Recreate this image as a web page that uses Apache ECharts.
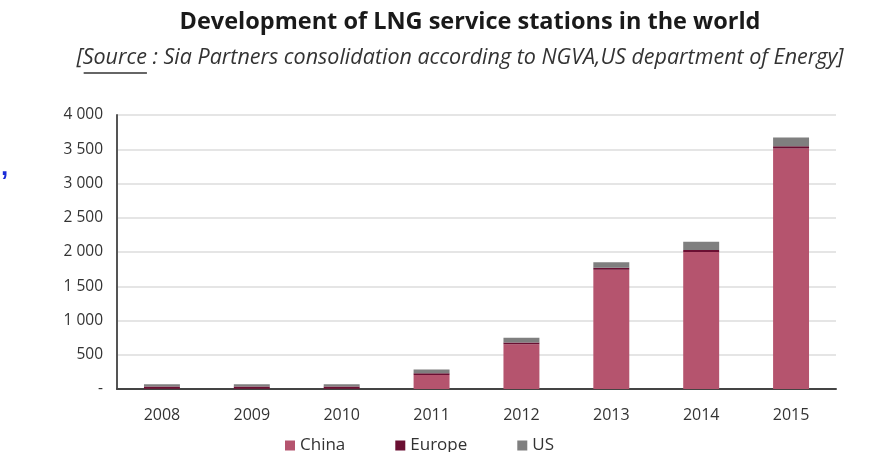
<!DOCTYPE html>
<html><head><meta charset="utf-8">
<script src="https://cdn.jsdelivr.net/npm/echarts@6/dist/echarts.min.js"></script>
<style>html,body{margin:0;padding:0;background:#fff}#c{width:869px;height:452px}</style>
</head><body><div id="c"></div>
<script>
const years = ['2008','2009','2010','2011','2012','2013','2014','2015'];
const china = [5, 5, 5, 205, 655, 1740, 2000, 3510];
const europe = [30, 30, 30, 25, 25, 30, 30, 35];
const us = [35, 35, 35, 55, 70, 80, 120, 125];
const yTicks = ['-', '500', '1 000', '1 500', '2 000', '2 500', '3 000', '3 500', '4 000'];

const font = '"Open Sans", sans-serif';
const subtitle = '[Source : Sia Partners consolidation according to NGVA,US department of Energy]';
const subSize = 21.5;
const subCenter = 460, subY = 47;

// measure for the underline under "Source"
const cv = document.createElement('canvas').getContext('2d');
cv.font = 'italic ' + subSize + 'px "Open Sans"';
const fullW = cv.measureText(subtitle).width;
const x0 = subCenter - fullW / 2 + cv.measureText('[').width;
const x1 = x0 + cv.measureText('Source').width;

const chart = echarts.init(document.getElementById('c'));
const mk = (name, data, color) => ({
  name, type: 'bar', stack: 'total', data, barWidth: '40%',
  itemStyle: { color }
});
chart.setOption({
  animation: false,
  title: {
    text: 'Development of LNG service stations in the world',
    left: 465, top: 5, textAlign: 'center',
    textStyle: { fontFamily: font, fontWeight: 'bold', fontSize: 23.5, color: '#1a1a1a' }
  },
  graphic: [
    { type: 'text', x: subCenter, y: subY, style: { text: subtitle, fill: '#333', font: 'italic ' + subSize + 'px "Open Sans"', textAlign: 'center', textVerticalAlign: 'top' } },
    { type: 'line', shape: { x1: x0 + 1, y1: subY + 26, x2: x1, y2: subY + 26 }, style: { stroke: '#333', lineWidth: 1.3 } },
    { type: 'text', x: 1, y: 155, style: { text: ',', fill: '#1a2cd8', font: 'bold 26px sans-serif' } }
  ],
  legend: {
    top: 432, left: 280, itemWidth: 10, itemHeight: 10, itemGap: 50, icon: 'rect',
    textStyle: { fontFamily: font, fontSize: 17, color: '#333' }
  },
  grid: { left: 117, right: 33, top: 115, bottom: 63 },
  xAxis: {
    type: 'category', data: years,
    axisLine: { lineStyle: { color: '#444', width: 2 } },
    axisTick: { show: false },
    axisLabel: { fontFamily: font, fontSize: 16, color: '#333', margin: 18 }
  },
  yAxis: {
    type: 'value', min: 0, max: 4000, interval: 500,
    axisLine: { show: true, lineStyle: { color: '#555', width: 2 } },
    splitLine: { lineStyle: { color: '#dcdcdc', width: 1.5 } },
    axisLabel: { fontFamily: font, fontSize: 15.5, color: '#333', margin: 14,
      formatter: (v) => yTicks[Math.round(v / 500)] }
  },
  series: [
    mk('China', china, '#b5546e'),
    mk('Europe', europe, '#6a0f32'),
    mk('US', us, '#7f7f7f')
  ]
});
</script></body></html>
